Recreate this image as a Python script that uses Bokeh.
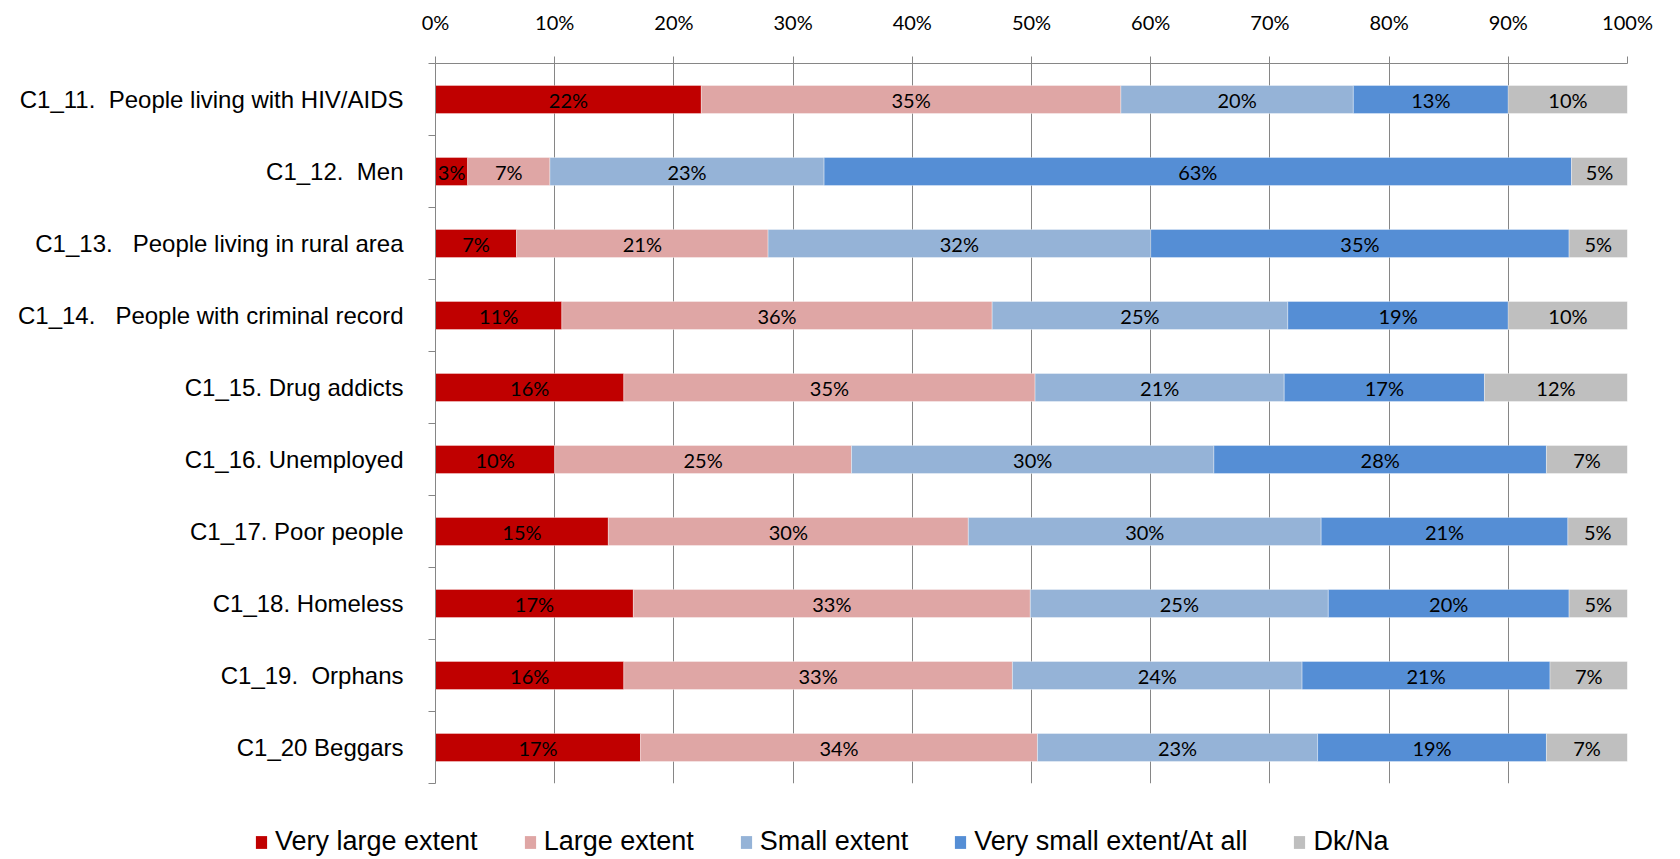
from bokeh.plotting import figure
from bokeh.layouts import column
from bokeh.models import (ColumnDataSource, Range1d, LinearAxis,
                          FixedTicker, PrintfTickFormatter, Legend, LegendItem)
from bokeh.core.properties import value
from bokeh.embed import file_html
from bokeh.resources import INLINE

NB = "\u00a0"
categories = [
    "C1_11." + NB + " People living with HIV/AIDS",
    "C1_12." + NB + " Men",
    "C1_13." + NB + NB + " People living in rural area",
    "C1_14." + NB + NB + " People with criminal record",
    "C1_15. Drug addicts",
    "C1_16. Unemployed",
    "C1_17. Poor people",
    "C1_18. Homeless",
    "C1_19." + NB + " Orphans",
    "C1_20 Beggars",
]
series_names = ["Very large extent", "Large extent", "Small extent", "Very small extent/At all", "Dk/Na"]
very_large = [22.3, 2.7, 6.8, 10.6, 15.8, 10.0, 14.5, 16.6, 15.8, 17.2]
large = [35.2, 6.9, 21.1, 36.1, 34.5, 24.9, 30.2, 33.3, 32.6, 33.3]
small = [19.5, 23.0, 32.1, 24.8, 20.9, 30.4, 29.6, 25.0, 24.3, 23.5]
very_small = [13.0, 62.7, 35.1, 18.5, 16.8, 27.9, 20.7, 20.2, 20.8, 19.2]
dk_na = [10.0, 4.7, 4.9, 10.0, 12.0, 6.8, 5.0, 4.9, 6.5, 6.8]
labels_very_large = ["22%", "3%", "7%", "11%", "16%", "10%", "15%", "17%", "16%", "17%"]
labels_large = ["35%", "7%", "21%", "36%", "35%", "25%", "30%", "33%", "33%", "34%"]
labels_small = ["20%", "23%", "32%", "25%", "21%", "30%", "30%", "25%", "24%", "23%"]
labels_very_small = ["13%", "63%", "35%", "19%", "17%", "28%", "21%", "20%", "21%", "19%"]
labels_dk_na = ["10%", "5%", "5%", "10%", "12%", "7%", "5%", "5%", "7%", "7%"]
x_ticks = [0, 10, 20, 30, 40, 50, 60, 70, 80, 90, 100]

colors = ["#C00000", "#DFA6A5", "#95B3D7", "#558ED5", "#BFBFBF"]
series = [very_large, large, small, very_small, dk_na]
series_labels = [labels_very_large, labels_large, labels_small, labels_very_small, labels_dk_na]

n = len(categories)
ypos = [i + 0.5 for i in range(n)]

W, H1, H2 = 1668, 795, 62
p = figure(width=W, height=H1, output_backend="svg", toolbar_location=None,
           y_range=Range1d(n, 0), x_range=Range1d(0, 100),
           x_axis_location="above", y_axis_location=None,
           min_border_left=435, min_border_right=41, min_border_top=63, min_border_bottom=H1 - 783)
p.outline_line_color = None
p.background_fill_color = "white"
p.frame_align = False

# top axis
xa = p.xaxis[0]
xa.ticker = FixedTicker(ticks=x_ticks)
xa.formatter = PrintfTickFormatter(format="%d%%")
xa.major_tick_out = 7
xa.major_tick_in = 0
xa.minor_tick_line_color = None
xa.axis_line_color = "#868686"
xa.major_tick_line_color = "#868686"
xa.major_label_text_font = "Lato"
xa.major_label_text_font_size = "20px"
xa.major_label_text_color = "black"
xa.major_label_standoff = 23

p.xgrid.ticker = FixedTicker(ticks=x_ticks)
p.xgrid.grid_line_color = "#868686"
p.xgrid.grid_line_width = 1
p.ygrid.grid_line_color = None

# category label axis, minor ticks mark the boundaries between categories
cat_axis = LinearAxis(ticker=FixedTicker(ticks=ypos, minor_ticks=list(range(n + 1))),
                      major_label_overrides={y: c for y, c in zip(ypos, categories)})
cat_axis.axis_line_color = "#868686"
cat_axis.major_tick_line_color = None
cat_axis.major_tick_out = 0
cat_axis.major_tick_in = 0
cat_axis.minor_tick_line_color = "#868686"
cat_axis.minor_tick_out = 7
cat_axis.minor_tick_in = 0
cat_axis.major_label_standoff = 25
cat_axis.major_label_text_font = "Liberation Sans"
cat_axis.major_label_text_font_size = "24px"
cat_axis.major_label_text_color = "black"
p.add_layout(cat_axis, "left")

# bars
left = [0.0] * n
for name, vals, labs, col in zip(series_names, series, series_labels, colors):
    right = [l + v for l, v in zip(left, vals)]
    mid = [(l + r) / 2 for l, r in zip(left, right)]
    src = ColumnDataSource(dict(y=ypos, left=left, right=right, mid=mid, lab=labs))
    p.hbar(y="y", left="left", right="right", height=0.39, source=src,
           fill_color=col, line_color="white", line_width=0.6, line_alpha=0.6)
    p.text(x="mid", y="y", text="lab", source=src, text_align="center", text_baseline="middle",
           text_font=value("Lato"), text_font_size="20px", text_color="black")
    left = right

# legend strip below the chart (hidden proxy renderers carry the legend swatches)
lg = figure(width=W, height=H2, output_backend="svg", toolbar_location=None,
            x_range=Range1d(0, 100), y_range=Range1d(n, 0),
            x_axis_location=None, y_axis_location=None,
            min_border_left=0, min_border_right=0, min_border_top=0, min_border_bottom=0)
lg.frame_align = False
lg.outline_line_color = None
lg.xgrid.grid_line_color = None
lg.ygrid.grid_line_color = None
items = []
for name, vals, col in zip(series_names, series, colors):
    src = ColumnDataSource(dict(y=ypos[:1], left=[0.0], right=vals[:1]))
    r = lg.hbar(y="y", left="left", right="right", height=0.39, source=src,
                fill_color=col, line_color=None, visible=False)
    items.append(LegendItem(label=name, renderers=[r]))
legend = Legend(items=items, orientation="horizontal", location=(254, 0))
legend.label_text_font = "Liberation Sans"
legend.label_text_font_size = "27px"
legend.label_text_color = "black"
legend.glyph_width = 14
legend.glyph_height = 16
legend.label_standoff = 7
legend.spacing = 45
legend.padding = 0
legend.margin = 0
legend.border_line_color = None
legend.background_fill_alpha = 0
legend.click_policy = "none"
lg.add_layout(legend, "center")

layout = column(p, lg, spacing=0)
open("out.html", "w").write(file_html(layout, INLINE))
